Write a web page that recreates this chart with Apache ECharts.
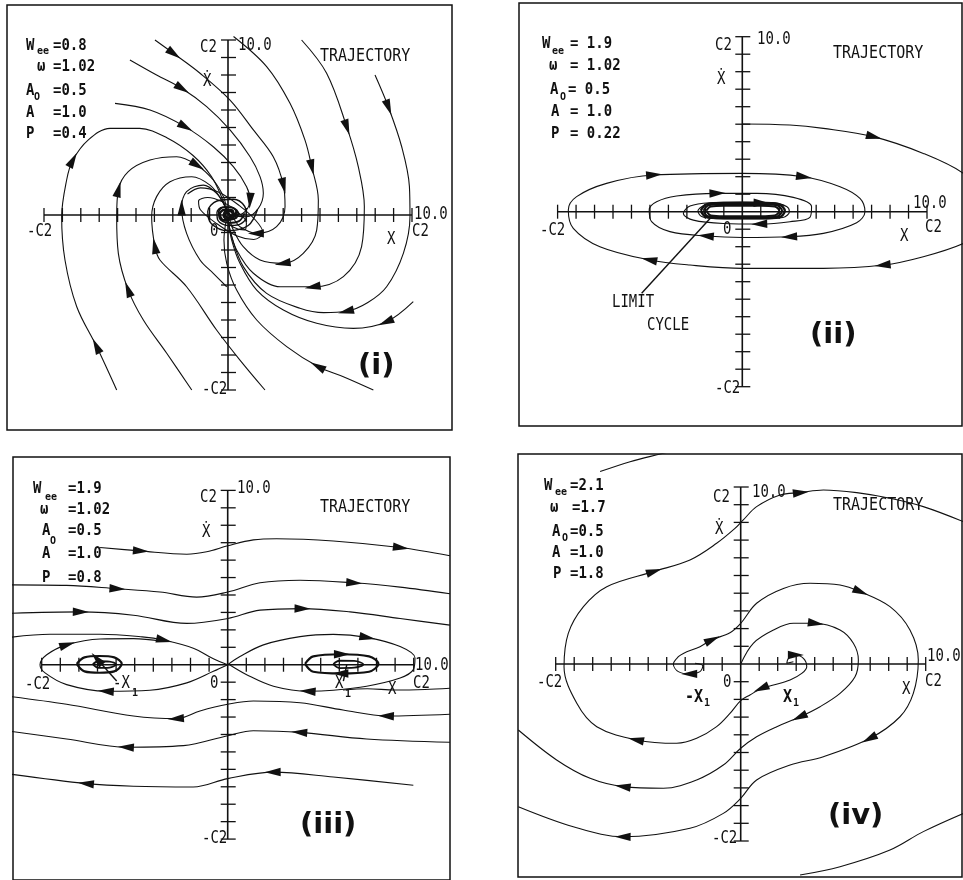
<!DOCTYPE html>
<html>
<head>
<meta charset="utf-8">
<script src="https://cdn.jsdelivr.net/npm/echarts@6/dist/echarts.min.js"></script>
<style>
html,body{margin:0;padding:0;background:#fff;}
#chart{width:963px;height:880px;}
</style>
</head>
<body>
<div id="chart"></div>
<script>
// Phase portraits (x, x-dot) in axis units; each axis runs -C2 .. C2 = -10 .. 10.
const axisSpan = [-10, 10];
const tickValues = [-10,-9,-8,-7,-6,-5,-4,-3,-2,-1,1,2,3,4,5,6,7,8,9,10];

// ---------- (i) stable focus ----------
const p1A = [[-3.97,10.0],[-2.97,9.24],[-1.52,8.10],[0.11,6.57],[1.38,4.86],[2.46,3.33],[3.01,1.71],[3.10,0.48],[2.64,-0.67],[1.56,-1.05],[0.65,-0.67],[0.29,-0.19],[0.05,0.05]];
const p1B = [[-5.33,8.86],[-3.88,8.0],[-2.52,7.24],[-1.16,6.19],[0.11,4.86],[1.20,3.33],[1.74,2.19],[1.92,1.24],[1.65,0.38],[1.01,-0.1],[0.4,-0.05],[0.05,0.02]];
const p1C = [[-6.14,6.38],[-4.24,6.0],[-2.34,5.05],[-0.80,3.90],[0.29,2.76],[1.01,1.62],[1.20,0.86],[0.92,0.19],[0.4,-0.02],[0.05,0.0]];
const p1D = [[0.3,10.2],[2.10,8.48],[3.37,6.38],[4.18,4.29],[4.55,2.76],[4.91,0.86],[4.82,-0.86],[4.09,-2.19],[3.01,-2.76],[1.74,-2.57],[0.83,-1.81],[0.29,-0.86],[0.05,-0.1]];
const p1E = [[4.0,10.0],[5.36,8.10],[6.45,5.05],[7.08,2.76],[7.41,0.48],[7.26,-1.81],[6.27,-3.52],[4.64,-4.10],[2.83,-4.10],[1.38,-3.33],[0.47,-2.0],[0.11,-0.86],[0,-0.1]];
const p1F = [[7.99,8.0],[8.71,6.19],[9.44,3.90],[9.86,1.62],[9.89,-0.1],[9.53,-2.19],[8.62,-4.10],[7.6,-5.0],[6.45,-5.5],[5.2,-5.58],[3.91,-5.33],[2.10,-4.48],[0.83,-2.95],[0.2,-1.24],[0,-0.2]];
const p1G = [[10.07,-4.95],[8.62,-6.10],[6.81,-6.48],[4.82,-6.19],[3.01,-5.43],[1.56,-4.29],[0.65,-2.76],[0.2,-1.43],[0,-0.3]];
const p1H = [[7.90,-10.0],[6.27,-9.24],[4.91,-8.67],[3.19,-7.52],[1.56,-6.0],[0.47,-4.29],[-0.07,-2.76],[-0.22,-1.43],[-0.1,-0.3]];
const p1I = [[-6.05,-10.0],[-7.14,-7.52],[-8.22,-5.24],[-8.86,-2.57],[-9.04,-0.1],[-8.77,2.0],[-8.45,3.1],[-7.59,4.29],[-6.41,4.95],[-4.8,4.95],[-3.3,4.4],[-1.9,3.4],[-0.9,2.2],[-0.3,0.9],[-0.05,0.1]];
const p1J = [[-1.97,-10.0],[-3.33,-7.9],[-4.6,-6.0],[-5.42,-4.29],[-5.96,-2.19],[-6.05,-0.1],[-5.96,1.43],[-5.42,2.48],[-4.24,3.14],[-2.79,3.33],[-1.70,2.86],[-0.80,2.0],[-0.25,1.05],[-0.07,0.29]];
const p1K = [[2.01,-10.0],[0.65,-8.29],[-0.62,-6.57],[-2.25,-4.10],[-3.70,-2.57],[-3.97,-1.81],[-4.15,-0.1],[-3.88,1.05],[-3.15,1.90],[-1.97,2.19],[-0.98,1.71],[-0.34,0.86],[-0.07,0.19]];
const p1L = [[-0.07,-4.10],[-0.80,-3.33],[-1.52,-2.57],[-2.25,-1.05],[-2.52,0.38],[-2.25,1.33],[-1.34,1.71],[-0.62,1.24],[-0.16,0.48]];
const p1Core = [[1.6,0.3],[1.1,-0.6],[0,-0.9],[-0.9,-0.5],[-1.1,0.2],[-0.6,0.8],[0.3,0.9],[0.9,0.5],[1.0,-0.1],[0.6,-0.55],[0,-0.6],[-0.55,-0.3],[-0.6,0.15],[-0.3,0.45],[0.2,0.45],[0.45,0.15],[0.35,-0.2],[0,-0.28],[-0.2,-0.05],[-0.05,0.12],[0.05,0]];
const p1Core2 = [[0.9,0.1],[0.6,-0.35],[0,-0.45],[-0.45,-0.2],[-0.5,0.2],[-0.2,0.45],[0.3,0.4],[0.55,0.1],[0.4,-0.2],[0,-0.25],[-0.25,-0.05],[-0.15,0.2],[0.15,0.2],[0.25,0],[0.05,-0.1]];
const p1Core3 = [[0.5,0.25],[0.2,-0.2],[-0.25,-0.3],[-0.45,0.05],[-0.2,0.3],[0.25,0.25],[0.3,-0.05],[0,-0.15],[-0.2,0.05],[0,0.12],[0.1,0]];
const p1Tilt = [[-2.2,1.2],[-1.5,1.55],[-0.5,1.3],[0.6,0.55],[1.5,-0.3],[1.9,-1.0],[1.4,-1.4],[0.5,-1.2],[-0.6,-0.5],[-1.5,0.3],[-1.6,0.8],[-1.1,1.0],[-0.3,0.75],[0.5,0.2],[1.0,-0.45],[0.9,-0.85],[0.3,-0.7],[-0.2,-0.2]];

// ---------- (ii) limit cycle ----------
const p2Spiral = [[0,5.01],[2.58,4.95],[4.39,4.76],[7.09,4.29],[9.80,3.33],[11.97,2.19],[13.4,0.67],[13.4,-0.86],[11.97,-1.81],[9.80,-2.57],[7.64,-3.05],[4.39,-3.24],[0,-3.24],[-2.83,-3.05],[-5.0,-2.76],[-7.71,-2.0],[-9.15,-0.95],[-9.42,0.1],[-8.97,0.86],[-7.35,1.62],[-4.82,2.10],[0,2.19],[3.30,2.0],[5.29,1.43],[6.37,0.76],[6.64,0],[6.19,-0.63],[4.39,-1.24],[2.58,-1.43],[0,-1.47],[-1.93,-1.39],[-3.92,-1.14],[-4.91,-0.57],[-5.04,0.1],[-4.64,0.57],[-3.56,0.90],[-1.39,1.05],[0.78,1.05],[2.76,0.82],[3.75,0.29],[3.66,-0.32],[2.58,-0.57],[0.96,-0.70],[-1.03,-0.67],[-2.65,-0.48],[-3.19,-0.1],[-2.83,0.32],[-1.75,0.51],[0,0.55],[1.6,0.52],[2.4,0.3],[2.55,0],[2.2,-0.33],[1,-0.4],[0,-0.4],[-1.4,-0.4],[-2.2,-0.28],[-2.4,0.05],[-2.0,0.4]];
const p2CycleOuter = [[-2.25,0.05],[-1.95,0.42],[-1,0.5],[0,0.5],[1,0.5],[1.95,0.44],[2.3,0.05],[2.0,-0.32],[1,-0.38],[0,-0.38],[-1,-0.38],[-1.95,-0.3],[-2.25,0.05]];
const p2CycleMid = [[-2.1,0.05],[-1.85,0.36],[-1,0.42],[0,0.42],[1,0.42],[1.85,0.37],[2.15,0.05],[1.88,-0.27],[1,-0.32],[0,-0.32],[-1,-0.32],[-1.85,-0.26],[-2.1,0.05]];
const p2CycleInner = [[-1.95,0.05],[-1.7,0.3],[-1,0.34],[0,0.34],[1,0.34],[1.75,0.3],[2.0,0.05],[1.75,-0.22],[1,-0.26],[0,-0.26],[-1,-0.26],[-1.7,-0.22],[-1.95,0.05]];
const p2Pointer = [[-5.45,-4.66],[-1.66,-0.29]];

// ---------- (iii) two foci and a saddle ----------
const p3U1 = [[-6.86,6.72],[-4.71,6.53],[-2.20,6.34],[-1.13,6.48],[0,6.82],[1.38,7.16],[2.63,7.23],[5.68,7.10],[9.27,6.72],[11.95,6.25]];
const p3U2 = [[-11.88,4.58],[-8.66,4.55],[-5.97,4.36],[-3.64,4.17],[-1.67,3.88],[0,4.17],[1.74,4.70],[3.89,4.85],[6.76,4.70],[9.27,4.45],[11.95,4.07]];
const p3U3 = [[-11.88,2.94],[-7.94,3.03],[-5.07,2.84],[-2.20,2.37],[0,2.65],[1.74,3.13],[3.98,3.22],[6.58,3.03],[9.27,2.65],[11.95,2.27]];
const p3Sep = [[-11.88,1.55],[-9.55,1.75],[-6.86,1.75],[-4.6,1.6],[-3.46,1.42],[-1.85,0.95],[-0.77,0.34],[0,0]];
const p3LeftLoop = [[0,0],[-0.77,-0.38],[-2.20,-1.04],[-4.18,-1.46],[-6.51,-1.52],[-8.66,-1.14],[-9.82,-0.47],[-10.09,0],[-9.73,0.57],[-8.66,1.14],[-6.86,1.48],[-5.07,1.5],[-3.5,1.35]];
const p3RightLoop = [[0,0],[0.66,0.47],[1.92,1.14],[3.89,1.61],[5.68,1.74],[7.47,1.57],[9.27,1.04],[10.07,0.38],[9.98,-0.28],[9.27,-0.76],[7.47,-1.23],[5.68,-1.46],[4.34,-1.52],[2.46,-1.23],[1.02,-0.57],[0.1,0]];
const p3RightEdge = [[11.95,-1.35],[10.6,-1.42],[9.0,-1.45],[7.5,-1.38],[6.2,-1.45]];
const p3L2 = [[11.95,-2.84],[8.55,-2.94],[6.2,-2.6],[3.89,-2.18],[1.38,-2.08],[0,-2.27],[-1.49,-2.65],[-2.74,-3.09],[-5.07,-2.94],[-8.66,-2.27],[-11.88,-1.80]];
const p3L3 = [[11.95,-4.45],[7.47,-4.26],[3.89,-3.88],[1.38,-3.79],[0,-4.07],[-2.38,-4.64],[-5.43,-4.73],[-8.66,-4.26],[-11.88,-3.79]];
const p3L4 = [[9.98,-6.91],[5.68,-6.44],[2.46,-6.16],[0,-6.53],[-1.85,-7.01],[-5.07,-6.97],[-7.58,-6.82],[-11.88,-6.25]];
const p3FocusL = [[-8.12,0.05],[-7.7,0.42],[-6.9,0.5],[-6.1,0.42],[-5.7,0.05],[-6.1,-0.38],[-6.9,-0.46],[-7.7,-0.38],[-8.12,0.05]];
const p3FocusLIn = [[-7.25,0.03],[-6.95,0.2],[-6.35,0.18],[-6.0,0.02],[-6.35,-0.16],[-6.95,-0.18],[-7.25,0.03]];
const p3FocusR = [[4.16,0.05],[4.6,0.48],[6.1,0.6],[7.6,0.48],[8.1,0.05],[7.6,-0.4],[6.1,-0.5],[4.6,-0.4],[4.16,0.05]];
const p3FocusRIn = [[5.68,0.03],[6.0,0.23],[6.8,0.22],[7.29,0.02],[6.8,-0.17],[6.0,-0.19],[5.68,0.03]];
const p3PointL = [[-5.97,-0.93],[-7.0,0.3]];
const p3PointR = [[6.22,-0.94],[6.40,0.0]];

// ---------- (iv) separatrix loops ----------
const p4Inner = [[0,0],[0.68,1.17],[1.77,1.92],[2.85,2.30],[4.02,2.30],[5.37,1.92],[6.09,1.17],[6.36,0.23],[6.18,-0.72],[5.37,-1.66],[4.29,-2.41],[3.21,-2.98],[1.95,-3.54],[0.86,-4.11],[0,-4.76],[-0.94,-5.71],[-2.38,-6.55],[-4.18,-7.02],[-6.34,-6.93],[-8.14,-6.46],[-9.95,-5.42],[-12.02,-3.73]];
const p4FromLeft = [[-2.47,0.04],[-2.05,-0.11],[-2.20,-0.43],[-2.74,-0.56],[-3.37,-0.43],[-3.64,0],[-3.37,0.41],[-3.10,0.60],[-2.20,0.98],[-1.57,1.36],[-0.58,1.77],[0,2.30],[0.86,3.43],[2.31,4.27],[3.75,4.56],[5.37,4.46],[6.45,4.09],[8.07,3.24],[9.15,1.92],[9.60,0.23],[9.33,-1.66],[8.61,-2.98],[6.99,-4.20],[4.47,-5.24],[2.67,-5.71],[0.86,-6.55],[0,-7.59],[-0.94,-8.44],[-2.74,-9.28],[-6.34,-9.76],[-9.05,-9.19],[-12.02,-8.06]];
const p4FromRight = [[2.85,0.13],[2.49,0.04],[2.58,0.32],[2.94,0.51],[3.39,0.32],[3.57,-0.15],[3.30,-0.53],[2.67,-0.90],[1.77,-1.19],[1.14,-1.37],[0.50,-1.75],[0,-2.07],[-0.58,-2.79],[-1.30,-3.54],[-2.38,-4.20],[-3.46,-4.48],[-5.62,-4.29],[-7.78,-3.54],[-8.86,-2.22],[-9.55,-0.15],[-9.32,1.73],[-8.50,3.24],[-7.24,4.37],[-4.72,5.22],[-2.74,5.88],[-1.30,6.82],[-0.31,7.66],[0.14,8.14],[0.86,8.89],[2.13,9.55],[3.21,9.68],[4.47,9.83],[6.27,9.68],[8.07,9.36],[9.87,8.89],[12.04,8.04]];
const p4TopLeft = [[-7.60,10.87],[-5.98,11.43],[-4.36,11.86],[-2.74,12.28]];
const p4BottomRight = [[3.21,-11.92],[5.37,-11.45],[8.07,-10.51],[9.87,-9.47],[12.04,-8.44]];

// Panel layout (pixel frame, origin, pixels per unit) and the curves drawn in each.
// a: vertices that carry a direction arrowhead; w: stroke width override.
const panels = [
  { box:[7,5,452,430], origin:[228,215], unit:[18.4,17.5], curves:[
      {d:p1A,a:[1,6,9]},{d:p1B,a:[2]},{d:p1C,a:[2,6]},{d:p1D,a:[4,8]},{d:p1E,a:[2,7]},
      {d:p1F,a:[1,8]},{d:p1G,a:[1]},{d:p1H,a:[2]},{d:p1I,a:[1,6]},{d:p1J,a:[3,6,10]},
      {d:p1K,a:[5]},{d:p1L,a:[4]},{d:p1Core,a:[],w:1.4},{d:p1Core2,a:[],w:1.8},{d:p1Core3,a:[],w:2.4},{d:p1Tilt,a:[]} ] },
  { box:[519,3,962,426], origin:[742.3,211.7], unit:[18.47,17.5], curves:[
      {d:p2Spiral,a:[3,10,14,20,22,28,30,36,42]},
      {d:p2CycleOuter,a:[4],w:2.4},{d:p2CycleMid,a:[],w:2},{d:p2CycleInner,a:[],w:2},
      {d:p2Pointer,a:[],w:1.4,straight:true} ] },
  { box:[13,457,450,884], origin:[227.7,666.7], unit:[18.6,17.6], curves:[
      {d:p3U1,a:[1,8]},{d:p3U2,a:[2,8]},{d:p3U3,a:[1,6]},{d:p3Sep,a:[4]},
      {d:p3LeftLoop,a:[4,9]},{d:p3RightLoop,a:[5,12]},{d:p3RightEdge,a:[]},
      {d:p3L2,a:[1,7]},{d:p3L3,a:[2,6]},{d:p3L4,a:[2,6]},
      {d:p3FocusL,a:[],w:2.2},{d:p3FocusLIn,a:[],w:1.8},{d:p3FocusR,a:[2,6],w:2.2},{d:p3FocusRIn,a:[],w:1.8},
      {d:p3PointL,a:[1],w:1.4,straight:true},{d:p3PointR,a:[],w:1.4,straight:true} ] },
  { box:[518,454,962,877], origin:[740.7,664], unit:[18.5,17.7], curves:[
      {d:p4Inner,a:[4,11,18]},{d:p4FromLeft,a:[3,9,16,22,29]},{d:p4FromRight,a:[3,9,16,23,30]},
      {d:p4TopLeft,a:[]},{d:p4BottomRight,a:[]} ] }
];

const INK = '#111';

function renderTick(params, api) {
  const v = api.value(0), onY = api.value(1) === 1;
  const p = api.coord(onY ? [0, v] : [v, 0]);
  const shape = onY ? {x1:p[0]-7, y1:p[1], x2:p[0]+8, y2:p[1]} : {x1:p[0], y1:p[1]-7, x2:p[0], y2:p[1]+7};
  return {type:'line', shape, style:{stroke:INK, lineWidth:1.3}};
}

function renderArrow(params, api) {
  const p = api.coord([api.value(0), api.value(1)]);
  const a = api.coord([api.value(2), api.value(3)]);
  const b = api.coord([api.value(4), api.value(5)]);
  let dx = b[0]-a[0], dy = b[1]-a[1];
  const L = Math.hypot(dx, dy) || 1; dx /= L; dy /= L;
  const len = 16, hw = 4.2;
  const tip = [p[0]+dx*len*0.55, p[1]+dy*len*0.55];
  const bk = [p[0]-dx*len*0.45, p[1]-dy*len*0.45];
  return {type:'polygon', shape:{points:[tip,[bk[0]-dy*hw, bk[1]+dx*hw],[bk[0]+dy*hw, bk[1]-dx*hw]]}, style:{fill:INK}};
}

const grids = [], xAxes = [], yAxes = [], series = [];
panels.forEach((pn, i) => {
  const [l,t,r,b] = pn.box, [ox,oy] = pn.origin, [sx,sy] = pn.unit;
  grids.push({left:l, top:t, width:r-l, height:b-t, show:true, borderColor:INK, borderWidth:1.5, backgroundColor:'rgba(0,0,0,0)'});
  xAxes.push({gridIndex:i, type:'value', min:(l-ox)/sx, max:(r-ox)/sx, show:false});
  yAxes.push({gridIndex:i, type:'value', min:(oy-b)/sy, max:(oy-t)/sy, show:false});
  const ax = {xAxisIndex:i, yAxisIndex:i, silent:true};
  // crossing axes
  series.push(Object.assign({type:'line', data:[[axisSpan[0],0],[axisSpan[1],0]], symbol:'none', lineStyle:{color:INK,width:1.6}, z:4}, ax));
  series.push(Object.assign({type:'line', data:[[0,axisSpan[0]],[0,axisSpan[1]]], symbol:'none', lineStyle:{color:INK,width:1.6}, z:4}, ax));
  series.push(Object.assign({type:'custom', renderItem:renderTick, encode:{x:0,y:1},
    data: tickValues.map(v=>[v,0]).concat(tickValues.map(v=>[v,1])), z:4}, ax));
  // trajectories
  const arrowData = [];
  pn.curves.forEach(c => {
    series.push(Object.assign({type:'line', data:c.d, smooth:c.straight?false:0.35, symbol:'none',
      lineStyle:{color:INK, width:c.w||1.1}, clip:true, z:3}, ax));
    c.a.forEach(k => {
      const prev = c.d[Math.max(k-1,0)], next = c.d[Math.min(k+1,c.d.length-1)];
      arrowData.push([c.d[k][0], c.d[k][1], prev[0], prev[1], next[0], next[1]]);
    });
  });
  series.push(Object.assign({type:'custom', renderItem:renderArrow, encode:{x:0,y:1}, data:arrowData, z:5}, ax));
});

// Text annotations: [left x, vertical centre y, text, style]
const fonts = {
  p: {font:"bold 14px 'DejaVu Sans Mono'", sy:1.15},
  s: {font:"bold 10px 'DejaVu Sans Mono'", sy:1.1},
  t: {font:"14px 'DejaVu Sans Mono'", sy:1.2},
  T: {font:"15px 'DejaVu Sans Mono'", sy:1.2},
  x: {font:"bold 15px 'DejaVu Sans Mono'", sy:1.2},
  R: {font:"bold 29px 'DejaVu Sans'", sy:1.0}
};
const notes = [
  // (i)
  [26,45.5,'W','p'],[37,51.5,'ee','s'],[53,45.5,'=0.8','p'],
  [37,67,'ω','p'],[53,67,'=1.02','p'],
  [26,91,'A','p'],[34,97.5,'O','s'],[53,91,'=0.5','p'],
  [26,112.5,'A','p'],[53,112.5,'=1.0','p'],
  [26,134,'P','p'],[53,134,'=0.4','p'],
  [200,48,'C2','t'],[238,46,'10.0','t'],[203,82,'Ẋ','t'],[27,232,'-C2','t'],[414,215,'10.0','t'],
  [412,232,'C2','t'],[387,240,'X','t'],[210,232,'0','t'],[202,390,'-C2','t'],
  [320,56,'TRAJECTORY','T'],[358,366,'(i)','R'],
  // (ii)
  [542,43.5,'W','p'],[552,51,'ee','s'],[570,43.5,'= 1.9','p'],
  [549,66,'ω','p'],[570,66,'= 1.02','p'],
  [550,90,'A','p'],[560,97.5,'O','s'],[568,90,'= 0.5','p'],
  [551,111.7,'A','p'],[570,111.7,'= 1.0','p'],
  [551,134,'P','p'],[570,134,'= 0.22','p'],
  [715,45.5,'C2','t'],[757,40,'10.0','t'],[717,79.5,'Ẋ','t'],[540,230.5,'-C2','t'],[913,203.5,'10.0','t'],
  [925,227.5,'C2','t'],[900,236.5,'X','t'],[723,229.5,'0','t'],[715,388.5,'-C2','t'],
  [612,302.5,'LIMIT','t'],[647,326,'CYCLE','t'],
  [833,53.5,'TRAJECTORY','T'],[810,335,'(ii)','R'],
  // (iii)
  [33,489,'W','p'],[45,497,'ee','s'],[68,489,'=1.9','p'],
  [40,510,'ω','p'],[68,510,'=1.02','p'],
  [42,531,'A','p'],[50,541,'O','s'],[68,531,'=0.5','p'],
  [42,554,'A','p'],[68,554,'=1.0','p'],
  [42,577.5,'P','p'],[68,577.5,'=0.8','p'],
  [200,497.5,'C2','t'],[237,488.5,'10.0','t'],[202,532.5,'Ẋ','t'],[25,684.5,'-C2','t'],[210,684,'0','t'],
  [415,666,'10.0','t'],[413,683.5,'C2','t'],[388,690,'X','t'],
  [113,684,'-X','t'],[132,693,'1','s'],[335,684,'X','t'],[345,694,'1','s'],[202,838.5,'-C2','t'],
  [320,507.5,'TRAJECTORY','T'],[300,825.5,'(iii)','R'],
  // (iv)
  [544,486,'W','p'],[555,492.5,'ee','s'],[570,486,'=2.1','p'],
  [550,508,'ω','p'],[572,508,'=1.7','p'],
  [552,532,'A','p'],[562,538.5,'O','s'],[570,532,'=0.5','p'],
  [552,552.5,'A','p'],[570,552.5,'=1.0','p'],
  [553,574,'P','p'],[570,574,'=1.8','p'],
  [713,497.5,'C2','t'],[752,492.5,'10.0','t'],[715,529.5,'Ẋ','t'],[537,682.5,'-C2','t'],[723,682.5,'0','t'],
  [927,656.5,'10.0','t'],[925,681.5,'C2','t'],[902,690,'X','t'],
  [685,697,'-X','x'],[704,703,'1','s'],[783,697,'X','x'],[793,703,'1','s'],[712,838.5,'-C2','t'],
  [833,505,'TRAJECTORY','T'],[828,816.5,'(iv)','R']
];

const graphic = notes.map(([x,y,s,k]) => ({
  type:'text', x, y, scaleY:fonts[k].sy, silent:true, z:10,
  style:{text:s, font:fonts[k].font, fill:INK, textAlign:'left', textVerticalAlign:'middle'}
}));

const chart = echarts.init(document.getElementById('chart'), null, {renderer:'canvas'});
chart.setOption({
  backgroundColor:'#fff',
  animation:false,
  grid:grids, xAxis:xAxes, yAxis:yAxes,
  series,
  graphic
});
</script>
</body>
</html>
